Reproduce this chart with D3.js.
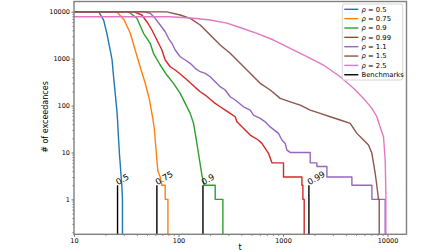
<!DOCTYPE html>
<html><head><meta charset="utf-8">
<script src="https://cdn.jsdelivr.net/npm/d3@7"></script>
<style>body{margin:0;background:#fff;} svg{display:block;}</style>
</head><body>
<script>
// ---- data: [t, number of exceedances] ----
const labels = ["0.5","0.75","0.9","0.99","1.1","1.5","2.5"];
const colors = ["#1f77b4","#ff7f0e","#2ca02c","#d62728","#9467bd","#8c564b","#e377c2"];
const rho05 = [[10,10000],[17.2,10000],[19.2,6650],[20.6,3500],[22.2,1525],[23.1,967],[23.9,415],[24.8,181],[25.7,80],[26.1,49],[26.7,19],[27.2,9.6],[28.1,3.6],[28.7,1.9],[29.1,1],[29.1,0]];
const rho075 = [[10,10000],[25.7,10000],[30.2,6650],[34.5,3515],[38.5,1525],[43.0,662],[48.0,302],[52.8,131],[56.4,57],[58.5,34],[62.1,7],[63.5,4],[66.8,3],[69.3,2],[74.6,2],[74.6,1],[79.2,1],[79.2,0]];
const rho09 = [[10,10000],[33.2,10000],[40,7230],[46.3,3460],[53.6,2120],[57.6,1297],[66.8,731],[77.4,447],[89.6,297],[103.8,182],[115.9,111],[129.4,68],[139.2,42],[150,15.6],[158.9,6.9],[167.5,3.3],[176.2,2],[224.5,2],[224.5,1],[266,1],[266,0]];
const rho099 = [[10,10000],[37.1,10000],[44.6,8500],[49.8,6120],[55.7,4074],[62.1,2492],[69.4,1526],[74.6,934],[83.3,672],[93,571],[103.8,469],[115.9,380],[129.4,306],[144.5,244],[161.3,197],[180.1,167],[201.1,136],[224.5,111],[250.6,94],[279.9,80],[312.4,68],[348.9,57.7],[362.2,45],[404.4,35.3],[451.3,27.6],[485.5,23.5],[580,18.4],[628.4,15.6],[675.4,12.2],[726.4,9.6],[783.1,6],[1011,6],[1011,3],[1517,3],[1517,2],[1550,2],[1550,1],[1595,1],[1595,0]];
const rho11 = [[10,10000],[46.3,10000],[53.6,9246],[59.8,7233],[66.8,5204],[74.6,3746],[80.2,2709],[86.5,2120],[93,1526],[103.8,1098],[115.9,934],[129.4,794],[144.5,621],[161.3,526],[180.1,486],[201.1,411],[224.5,322],[250.6,252],[279.9,214],[312.4,154],[348.9,131],[418.8,94],[485.5,80],[522,62.7],[605,53.3],[675,45],[754,35],[905,25.5],[976,18.4],[1050,15.6],[1090,11.2],[1172,10],[1821,10],[1821,6],[2111,6],[2111,5],[2631,5],[2631,3],[4563,3],[4563,2],[7091,2],[7091,1],[9506,1],[9506,0]];
const rho15 = [[10,10000],[77.4,9900],[103.8,8500],[129.4,7233],[161.3,5204],[201.1,3186],[250.6,1950],[312.4,1297],[389.4,794],[485.5,486],[605,297],[754.3,214],[940.1,142],[1172,120],[1461,102],[1821,80],[2270,68],[2829,57.7],[3527,49.1],[4397,41.7],[5096,25.5],[5893,18.4],[6580,14.4],[7091,9.6],[7345,5.9],[7626,3.6],[7918,1.9],[8203,1],[8330,1],[8330,0]];
const rho25 = [[10,7825],[83.3,7825],[139.2,7233],[201.1,6653],[290,5700],[400,4500],[563,3463],[811,2492],[1172,1658],[1693,1098],[2441,730],[3527,411],[4727,233],[5893,142],[7091,87],[7918,57.7],[8383,38.4],[9155,21.6],[9506,6.9],[9654,1.3],[9654,0]];
const seriesData = [rho05, rho075, rho09, rho099, rho11, rho15, rho25];
const benchT = [26.1, 62.1, 171.4, 1770];
const benchLabels = ["0.5","0.75","0.9","0.99"];
const benchHeight = 2;
const xTicks = [10,100,1000,10000];
const yTicks = [1,10,100,1000,10000];

// ---- layout ----
const W = 448, H = 252;
const L = 74, R = 406.5, T = 1.5, B = 234.3;
const svg = d3.select("body").append("svg").attr("width", W).attr("height", H);
const x = d3.scaleLog().domain([10, 15200]).range([L, R]);
const y = d3.scaleLog().domain([0.18, 16500]).range([B, T]);
const yv = c => c > 0 ? y(c) : B;

const font = "DejaVu Sans, sans-serif";

svg.append("clipPath").attr("id","clip").append("rect").attr("x",L).attr("y",T).attr("width",R-L).attr("height",B-T);

const line = d3.line().x(d => x(d[0])).y(d => yv(d[1]));
const plot = svg.append("g").attr("clip-path","url(#clip)");
seriesData.forEach((s,i) => {
  plot.append("path").datum(s).attr("d", line).attr("fill","none")
    .attr("stroke", colors[i]).attr("stroke-width", 1.4).attr("stroke-linejoin","round");
});
benchT.forEach((t,i) => {
  plot.append("line").attr("x1", x(t)).attr("x2", x(t)).attr("y1", B).attr("y2", y(benchHeight))
    .attr("stroke","#000").attr("stroke-width",1.4);
  svg.append("text").attr("transform", `translate(${x(t)+0.5},${y(benchHeight)}) rotate(-30)`)
    .attr("font-family", font).attr("font-size", 8.5).attr("fill","#000").text(benchLabels[i]);
});

const minorX = [];
[10,100,1000,10000].forEach(d => { for (let k=2;k<=9;k++){ const v=d*k; if (v<=15200) minorX.push(v);} });
const minorY = [];
[0.1,1,10,100,1000,10000].forEach(d => { for (let k=2;k<=9;k++){ const v=d*k; if (v>=0.18 && v<=16500) minorY.push(v);} });

const gx = svg.append("g").attr("transform", `translate(0,${B})`)
  .call(d3.axisBottom(x).tickValues(xTicks).tickFormat(d3.format("d")).tickSize(2.5).tickPadding(1.5));
const gxm = svg.append("g").attr("transform", `translate(0,${B})`)
  .call(d3.axisBottom(x).tickValues(minorX).tickFormat("").tickSize(1.5));
const gy = svg.append("g").attr("transform", `translate(${L},0)`)
  .call(d3.axisLeft(y).tickValues(yTicks).tickFormat(d3.format("d")).tickSize(2.5).tickPadding(1.5));
const gym = svg.append("g").attr("transform", `translate(${L},0)`)
  .call(d3.axisLeft(y).tickValues(minorY).tickFormat("").tickSize(1.5));
[gx,gxm,gy,gym].forEach(g => {
  g.select(".domain").remove();
  g.selectAll("line").attr("stroke","#333").attr("stroke-width",0.7);
  g.selectAll("text").attr("font-family", font).attr("font-size", 6.5).attr("fill","#000");
});

svg.append("rect").attr("x",L).attr("y",T).attr("width",R-L).attr("height",B-T)
  .attr("fill","none").attr("stroke","#808080").attr("stroke-width",1.4);

svg.append("text").attr("x", 240).attr("y", 250).attr("text-anchor","middle")
  .attr("font-family", font).attr("font-size", 8).text("t");
svg.append("text").attr("transform","translate(48,117) rotate(-90)").attr("text-anchor","middle")
  .attr("font-family", font).attr("font-size", 8).text("# of exceedances");

const lg = svg.append("g");
lg.append("rect").attr("x",342.3).attr("y",4).attr("width",60.4).attr("height",76).attr("rx",2)
  .attr("fill","#fff").attr("fill-opacity",0.85).attr("stroke","#ccc").attr("stroke-width",0.8);
const legItems = labels.map((l,i)=>({lab:l, col:colors[i], rho:true})).concat([{lab:"Benchmarks", col:"#000", rho:false}]);
legItems.forEach((it,i) => {
  const yy = 9.3 + i*9.35;
  lg.append("line").attr("x1",344.3).attr("x2",358.3).attr("y1",yy).attr("y2",yy)
    .attr("stroke",it.col).attr("stroke-width",1.4);
  const t = lg.append("text").attr("x",361.5).attr("y",yy+2.4).attr("font-family",font).attr("font-size",6.8).attr("fill","#000");
  if (it.rho) {
    t.append("tspan").attr("font-style","italic").text("ρ");
    t.append("tspan").text(" = " + it.lab);
  } else t.text(it.lab);
});
</script>
</body></html>
